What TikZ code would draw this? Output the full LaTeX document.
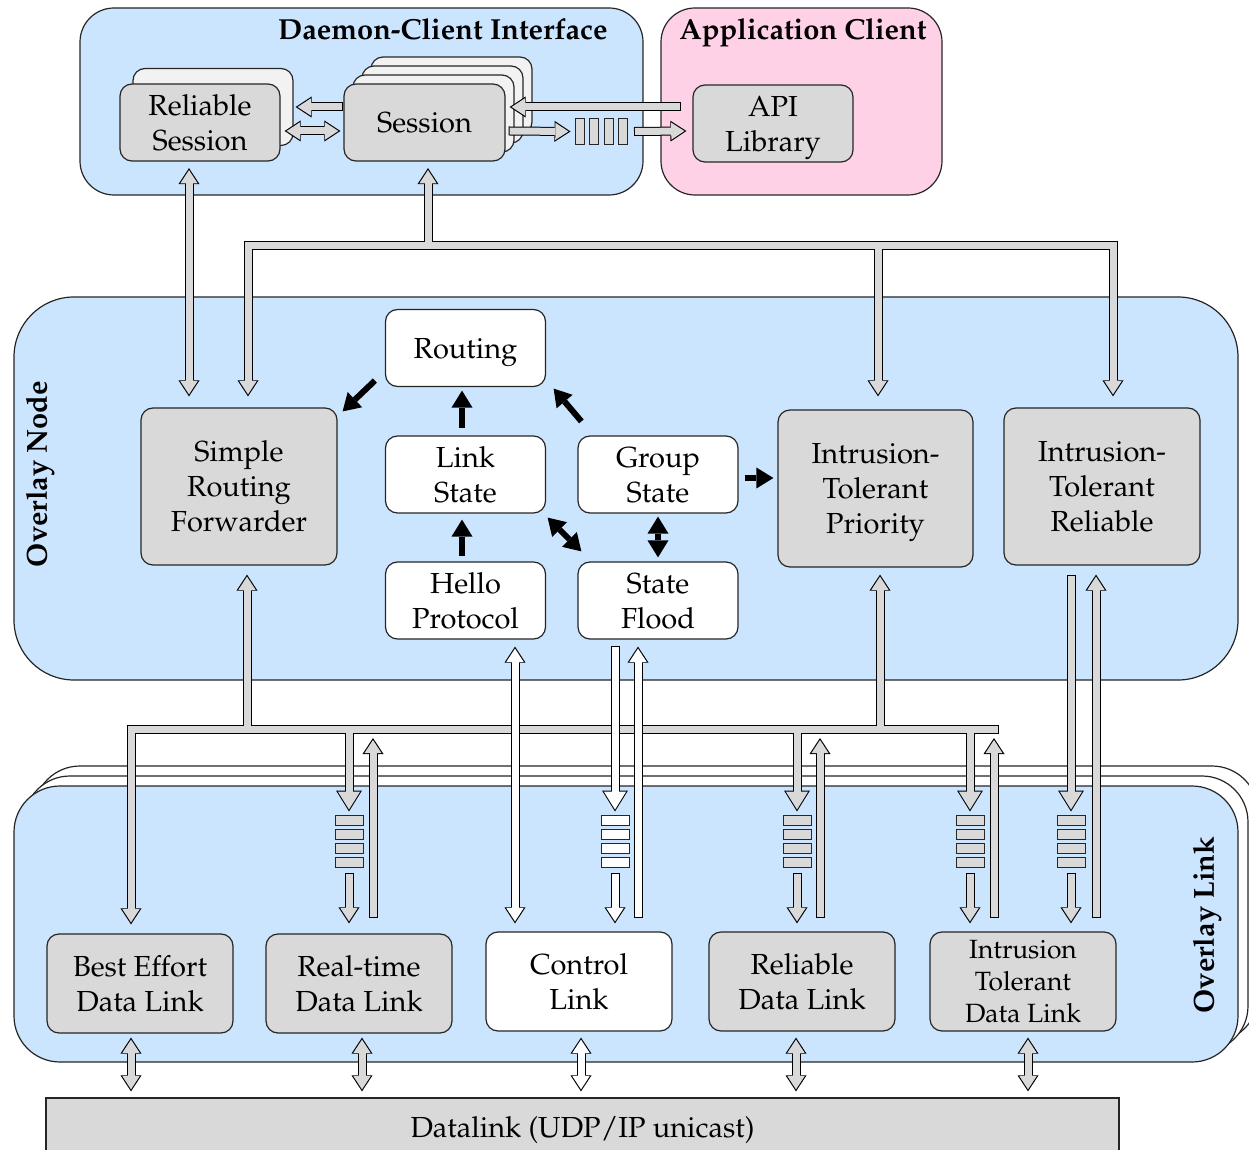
\documentclass[tikz,border=0pt]{standalone}
\usepackage[T1]{fontenc}
\usepackage{mathpazo}
\usetikzlibrary{arrows.meta,calc}

\definecolor{paleblue}{RGB}{204,229,255}
\definecolor{palepink}{RGB}{255,209,230}
\definecolor{boxgray}{RGB}{217,217,217}
\definecolor{stackgray}{RGB}{242,242,242}

\newcommand\nf{\fontsize{14.5}{17.5}\selectfont}
\newcommand\itnf{\fontsize{13.2}{16}\selectfont}

\tikzset{
  % arrow heads of the block pipes: outer (outline) and inner (fill) versions
  Hso/.tip={Triangle[length=8pt,width=10.5pt,line width=0pt]},
  Hsi/.tip={Triangle[length=6.6pt,width=8.6pt,line width=0pt]},
  Hbo/.tip={Triangle[length=10.5pt,width=13pt,line width=0pt]},
  Hbi/.tip={Triangle[length=9pt,width=11.2pt,line width=0pt]},
  pout/.style={line width=4.5pt, draw=black},
  pfill/.style={line width=3.5pt, draw=#1},
  oE/.style={-{H#1o}, shorten <=-0.5pt},
  iE/.style={-{H#1i}, shorten >=1pt},
  oB/.style={{H#1o}-{H#1o}},
  iB/.style={{H#1i}-{H#1i}, shorten >=1pt, shorten <=1pt},
  oS/.style={{H#1o}-, shorten >=-0.5pt},
  iS/.style={{H#1i}-, shorten <=1pt},
  % solid black arrows inside the overlay node
  ktip/.tip={Triangle[length=8.5pt,width=10.5pt,line width=0pt]},
  karrow/.style={line width=3pt, draw=black, -{ktip}},
  kdarrow/.style={line width=3pt, draw=black, {ktip}-{ktip}},
  % boxes
  cont/.style={draw=black!85, line width=0.6pt, inner sep=0pt},
  nbox/.style={draw=black!85, line width=0.6pt, rounded corners=6pt, inner sep=0pt, align=center, font=\nf, text depth=0pt},
  gbox/.style={nbox, fill=boxgray},
  wbox/.style={nbox, fill=white},
  nsize/.style={minimum width=80pt, minimum height=38.5pt},
  bsize/.style={minimum width=98pt, minimum height=78.5pt},
  dlink/.style={minimum width=93pt, minimum height=49.5pt},
  qh/.style={draw=black!85, line width=0.5pt, fill=#1, minimum width=4.5pt, minimum height=13pt, inner sep=0pt},
  qv/.style={draw=black!85, line width=0.5pt, fill=#1, minimum width=14pt, minimum height=5pt, inner sep=0pt},
  ttl/.style={font=\bfseries\nf, inner sep=0pt},
}

% a block pipe with a head at its end / heads at both ends
\newcommand\pipeE[3][s]{\draw[pout,oE=#1]#3;\draw[pfill=#2,iE=#1]#3;}
\newcommand\pipeB[3][s]{\draw[pout,oB=#1]#3;\draw[pfill=#2,iB=#1]#3;}

\begin{document}
\begin{tikzpicture}[x=0.5pt,y=-0.5pt]
\useasboundingbox (0,0) rectangle (1249,1150);
\clip (0,0) rectangle (1249,1150);
\fill[white] (0,0) rectangle (1249,1150);

% ---------- containers ----------
\node[cont, rounded corners=17pt, fill=paleblue, minimum width=281.5pt, minimum height=93.5pt] (dci) at (361.5,101.5) {};
\node[cont, rounded corners=17pt, fill=palepink, minimum width=140.5pt, minimum height=93.5pt] (appc) at (801.5,101.5) {};
\node[cont, rounded corners=23pt, fill=white, minimum width=612pt, minimum height=138pt] (ol3) at (646,904) {};
\node[cont, rounded corners=23pt, fill=white, minimum width=612pt, minimum height=138pt] (ol2) at (636,914) {};
\node[cont, rounded corners=23pt, fill=paleblue, minimum width=612pt, minimum height=138pt] (ol) at (626,924) {};
\node[cont, rounded corners=30pt, fill=paleblue, minimum width=612pt, minimum height=191.5pt] (on) at (626,488.5) {};
\node[cont, fill=boxgray, minimum width=536.5pt, minimum height=29pt, font=\nf, text depth=0pt] (dl) at (582.5,1127) {Datalink (UDP/IP unicast)};

\node[ttl, anchor=base east] (dcit) at (608,40) {Daemon-Client Interface};
\node[ttl, anchor=base] (appt) at (803,40) {Application Client};
\node[ttl, rotate=90] (onl) at (40,474) {Overlay Node};
\node[ttl, rotate=90] (oll) at (1207,925) {Overlay Link};

% ---------- daemon-client interface ----------
\node[gbox, nsize, fill=stackgray] (rsb) at (213,107) {};
\node[gbox, nsize] (rs) at (200,122.5) {Reliable\\Session};
\node[gbox, nsize, minimum width=80.5pt, fill=stackgray] (ss3) at (451.5,95.5) {};
\node[gbox, nsize, minimum width=80.5pt, fill=stackgray] (ss2) at (442.5,104.5) {};
\node[gbox, nsize, minimum width=80.5pt, fill=stackgray] (ss1) at (433.5,113.5) {};
\node[gbox, nsize, minimum width=80.5pt] (sess) at (424.5,122.5) {Session};
\node[gbox, nsize] (api) at (773,123.5) {API\\Library};
\node[qh=boxgray] (tq1) at (579.5,131.5) {};
\node[qh=boxgray] (tq2) at (594,131.5) {};
\node[qh=boxgray] (tq3) at (608.5,131.5) {};
\node[qh=boxgray] (tq4) at (623,131.5) {};

% ---------- overlay node ----------
\node[wbox, nsize] (rout) at (465.5,348) {Routing};
\node[wbox, nsize] (ls) at (465.5,474.5) {Link\\State};
\node[wbox, nsize] (gs) at (658,474.5) {Group\\State};
\node[wbox, nsize] (hp) at (465.5,600.5) {Hello\\Protocol};
\node[wbox, nsize] (sf) at (658,600.5) {State\\Flood};
\node[gbox, bsize] (srf) at (239,486.5) {Simple\\Routing\\Forwarder};
\node[gbox, bsize, minimum width=97.5pt] (itp) at (875.5,488.5) {Intrusion-\\Tolerant\\Priority};
\node[gbox, bsize] (itr) at (1102,486.5) {Intrusion-\\Tolerant\\Reliable};

% ---------- overlay link ----------
\node[gbox, dlink] (bedl) at (140,983.5) {Best Effort\\Data Link};
\node[gbox, dlink] (rtdl) at (359,983.5) {Real-time\\Data Link};
\node[wbox, dlink] (cl) at (579,981.5) {Control\\Link};
\node[gbox, dlink] (rdl) at (802,981.5) {Reliable\\Data Link};
\node[gbox, dlink, font=\itnf] (itdl) at (1023,981.5) {Intrusion\\Tolerant\\Data Link};

% link queues
\foreach \n/\y in {1/820,2/834,3/848,4/862}{
  \node[qv=boxgray] (rtq\n) at (349,\y) {};
  \node[qv=white] (sfq\n) at (615,\y) {};
  \node[qv=boxgray] (rq\n) at (797,\y) {};
  \node[qv=boxgray] (iq\n) at (970,\y) {};
  \node[qv=boxgray] (irq\n) at (1071,\y) {};
}

% ---------- control flow inside the overlay node ----------
\draw[karrow] ($(rout.south west)+(-10,-6.5)$) -- ($(srf.north east)+(5,4)$);
\draw[karrow] ($(ls.north)+(-3.5,-7)$) -- ($(rout.south)+(-3.5,3.5)$);
\draw[karrow] ($(gs.north west)+(4,-14)$) -- ($(rout.south east)+(7.5,1.5)$);
\draw[karrow] ($(hp.north)+(-3.5,-5)$) -- ($(ls.south)+(-3.5,6)$);
\draw[kdarrow] ($(ls.south east)+(1.5,4)$) -- ($(sf.north west)+(4,-10)$);
\draw[kdarrow] ($(gs.south)+(0,3)$) -- ($(sf.north)+(0,-4)$);
\draw[karrow] ($(gs.east)+(6,3.5)$) -- ($(itp.west)+(-4,-10.5)$);

% ---------- pipes at the daemon-client interface ----------
\pipeE{boxgray}{($(sess.west)+(-1,-15.5)$) -- ($(rsb.east)+(2,0)$)}
\pipeB{boxgray}{($(rs.east)+(4,8.5)$) -- ($(sess.west)+(-3,8.5)$)}
\pipeE{boxgray}{($(api.west)+(-12,-16.5)$) -- ($(sess.east)+(4,-15.5)$)}
\pipeE{boxgray}{($(sess.east)+(4,8.5)$) -- ($(tq1.west)+(-4,0)$)}
\pipeE{boxgray}{($(tq4.east)+(7,0)$) -- ($(api.west)+(-6,7.5)$)}
\pipeB{boxgray}{($(rs.south)+(-11,6.5)$) -- ($(srf.north)+(-50,-11)$)}

% upper distribution bus
\coordinate (tbL) at (248,246);
\coordinate (tbR) at (1113,246);
\coordinate (tbJ) at (428,246);
\coordinate (tbM) at (878,246);
\draw[pout,oB=s] ($(srf.north)+(9,-11)$) -- (tbL) -- (tbR) -- ($(itr.north)+(11,-11)$);
\draw[pout,oE=s] (tbJ) -- ($(sess.south)+(3.5,6.5)$);
\draw[pout,oE=s] (tbM) -- ($(itp.north)+(2.5,-13)$);
\draw[pfill=boxgray,iB=s] ($(srf.north)+(9,-11)$) -- (tbL) -- (tbR) -- ($(itr.north)+(11,-11)$);
\draw[pfill=boxgray,iE=s] (tbJ) -- ($(sess.south)+(3.5,6.5)$);
\draw[pfill=boxgray,iE=s] (tbM) -- ($(itp.north)+(2.5,-13)$);

% lower distribution bus
\coordinate (lbC) at (131,729);
\coordinate (lbE) at (998,729);
\coordinate (lbA) at (247,729);
\coordinate (lbB) at (880,729);
\coordinate (lbR) at (349,729);
\coordinate (lbL) at (797,729);
\coordinate (lbI) at (970,729);
\draw[pout,oS=s] ($(bedl.north)+(-9,-9)$) -- (lbC) -- (lbE);
\draw[pout,oE=s] (lbA) -- ($(srf.south)+(8,9)$);
\draw[pout,oE=s] (lbB) -- ($(itp.south)+(4.5,7)$);
\draw[pout,oE=b] (lbR) -- ($(rtq1.north)+(0,-3)$);
\draw[pout,oE=b] (lbL) -- ($(rq1.north)+(0,-3)$);
\draw[pout,oE=b] (lbI) -- ($(iq1.north)+(0,-3)$);
\draw[pfill=boxgray,iS=s] ($(bedl.north)+(-9,-9)$) -- (lbC) -- (lbE);
\draw[pfill=boxgray,iE=s] (lbA) -- ($(srf.south)+(8,9)$);
\draw[pfill=boxgray,iE=s] (lbB) -- ($(itp.south)+(4.5,7)$);
\draw[pfill=boxgray,iE=b] (lbR) -- ($(rtq1.north)+(0,-3)$);
\draw[pfill=boxgray,iE=b] (lbL) -- ($(rq1.north)+(0,-3)$);
\draw[pfill=boxgray,iE=b] (lbI) -- ($(iq1.north)+(0,-3)$);

% queues into the data links and replies back up
\pipeE{boxgray}{($(rtq4.south)+(0,6)$) -- ($(rtdl.north)+(-10,-10)$)}
\pipeE{boxgray}{($(rq4.south)+(0,6)$) -- ($(rdl.north)+(-5,-8)$)}
\pipeE{boxgray}{($(iq4.south)+(0,6)$) -- ($(itdl.north)+(-53,-8)$)}
\pipeE{boxgray}{($(irq4.south)+(0,6)$) -- ($(itdl.north)+(48,-8)$)}
\pipeE{white}{($(sfq4.south)+(0,6)$) -- ($(cl.north)+(36,-8)$)}
\pipeE{boxgray}{($(rtdl.north)+(14,-16)$) -- ($(lbR)+(24,9)$)}
\pipeE{boxgray}{($(rdl.north)+(18,-14)$) -- ($(lbL)+(23,9)$)}
\pipeE{boxgray}{($(itdl.north)+(-29,-14)$) -- ($(lbI)+(24,9)$)}

% control traffic
\pipeB{white}{($(hp.south)+(49.5,7)$) -- ($(cl.north)+(-64,-8)$)}
\pipeE[b]{white}{($(sf.south)+(-43,7)$) -- ($(sfq1.north)+(0,-3)$)}
\pipeE{white}{($(cl.north)+(59,-14)$) -- ($(sf.south)+(-20,7)$)}

% intrusion-tolerant reliable path
\pipeE[b]{boxgray}{($(itr.south)+(-31,10)$) -- ($(irq1.north)+(0,-3)$)}
\pipeE{boxgray}{($(itdl.north)+(73,-14)$) -- ($(itr.south)+(-6,9)$)}

% data links to the datalink layer
\pipeB{boxgray}{($(bedl.south)+(-9,4)$) -- ($(dl.north)+(-451.5,-6)$)}
\pipeB{boxgray}{($(rtdl.south)+(3,4)$) -- ($(dl.north)+(-220.5,-6)$)}
\pipeB{white}{($(cl.south)+(2,6)$) -- ($(dl.north)+(-1.5,-6)$)}
\pipeB{boxgray}{($(rdl.south)+(-6,6)$) -- ($(dl.north)+(213.5,-6)$)}
\pipeB{boxgray}{($(itdl.south)+(5,6)$) -- ($(dl.north)+(445.5,-6)$)}
\end{tikzpicture}
\end{document}
